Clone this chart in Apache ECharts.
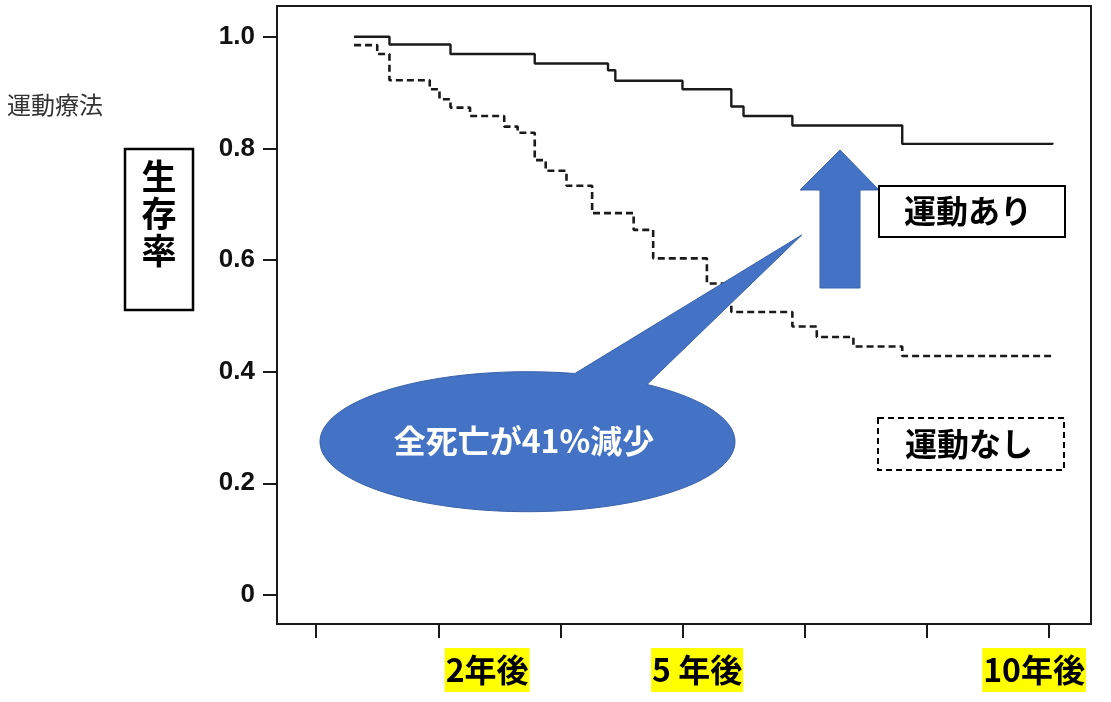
<!DOCTYPE html>
<html>
<head>
<meta charset="utf-8">
<script src="https://cdn.jsdelivr.net/npm/echarts@6/dist/echarts.min.js"></script>
<style>
html,body{margin:0;padding:0;background:#fff;}
#chart{width:1111px;height:702px;}
</style>
</head>
<body>
<div id="chart"></div>
<script>
// x in "tick units" (ticks equally spaced along the time axis)
const xTicks = [0, 1, 2, 3, 4, 5, 6];
const xLabelPositions = [1.40, 3.12, 5.88];
const xLabelTexts = ['2年後', '5 年後', '10年後'];
const yTicks = [0, 0.2, 0.4, 0.6, 0.8, 1.0];

// 運動あり (solid)
const exerciseX = [0.31, 0.60, 1.10, 1.79, 2.39, 2.45, 3.00, 3.40, 3.50, 3.90, 4.80, 6.03];
const exerciseY = [1.00, 0.986, 0.969, 0.952, 0.940, 0.921, 0.906, 0.875, 0.858, 0.841, 0.808, 0.810];

// 運動なし (dashed)
const noExerciseX = [0.31, 0.50, 0.60, 0.93, 1.01, 1.10, 1.26, 1.54, 1.65, 1.79, 1.88, 2.05, 2.26, 2.60, 2.76, 3.20, 3.40, 3.90, 4.10, 4.40, 4.80, 6.03];
const noExerciseY = [0.985, 0.969, 0.922, 0.906, 0.888, 0.873, 0.858, 0.839, 0.828, 0.779, 0.760, 0.733, 0.684, 0.654, 0.603, 0.558, 0.507, 0.481, 0.462, 0.445, 0.428, 0.428];

const CJK = '"Noto Sans CJK JP", "Noto Sans", sans-serif';
const NUM = '"Liberation Sans", Arial, sans-serif';
const BLUE = '#4472C4';
const BLUE_EDGE = '#3A62AA';

// speech-bubble outline (decoration): ellipse + tail
function bubblePoints() {
  const cx = 527.5, cy = 441.7, rx = 207.5, ry = 70;
  const a0 = Math.atan2((384 - cy) / ry, (648 - cx) / rx);
  let a1 = Math.atan2((373.3 - cy) / ry, (575 - cx) / rx);
  while (a1 <= a0) a1 += Math.PI * 2;
  const pts = [[801.7, 235]];
  const n = 120;
  for (let i = 0; i <= n; i++) {
    const a = a0 + (a1 - a0) * i / n;
    pts.push([cx + rx * Math.cos(a), cy + ry * Math.sin(a)]);
  }
  return pts;
}

const chart = echarts.init(document.getElementById('chart'), null, {renderer: 'canvas'});

const option = {
  backgroundColor: '#ffffff',
  animation: false,
  grid: {
    left: 277, right: 20, top: 6, bottom: 78,
    show: true, borderColor: '#1a1a1a', borderWidth: 2, backgroundColor: 'transparent'
  },
  xAxis: {
    type: 'value', min: -0.321, max: 6.346,
    axisLine: {show: true, onZero: false, lineStyle: {color: '#1a1a1a', width: 2}},
    axisTick: {show: true, customValues: xTicks, length: 14, lineStyle: {color: '#1a1a1a', width: 2}},
    splitLine: {show: false},
    axisLabel: {
      show: true,
      customValues: xLabelPositions,
      margin: 24,
      formatter: function (v) {
        let best = 0, d = Infinity;
        xLabelPositions.forEach(function (p, i) { if (Math.abs(p - v) < d) { d = Math.abs(p - v); best = i; } });
        return xLabelTexts[best];
      },
      fontFamily: CJK, fontWeight: 'bold', fontSize: 32, color: '#000',
      backgroundColor: '#FFFF00', lineHeight: 44, padding: [0, 1, 0, 1]
    }
  },
  yAxis: {
    type: 'value', min: -0.052, max: 1.055,
    axisLine: {show: true, onZero: false, lineStyle: {color: '#1a1a1a', width: 2}},
    axisTick: {show: true, customValues: yTicks, length: 14, lineStyle: {color: '#1a1a1a', width: 2}},
    splitLine: {show: false},
    axisLabel: {
      show: true,
      customValues: yTicks,
      margin: 22,
      formatter: function (v) { return v === 0 ? '0' : v.toFixed(1); },
      fontFamily: NUM, fontWeight: 'bold', fontSize: 26, color: '#111'
    }
  },
  series: [
    {
      name: '運動あり', type: 'line', step: 'end', symbol: 'none', z: 3,
      data: exerciseX.map(function (x, i) { return [x, exerciseY[i]]; }),
      lineStyle: {color: '#1a1a1a', width: 2.4}
    },
    {
      name: '運動なし', type: 'line', step: 'end', symbol: 'none', z: 3,
      data: noExerciseX.map(function (x, i) { return [x, noExerciseY[i]]; }),
      lineStyle: {color: '#1a1a1a', width: 2.6, type: [7, 4]}
    }
  ],
  graphic: [
    {
      type: 'text', x: 7, y: 105, z: 100,
      style: {text: '運動療法', font: '24px ' + CJK, fill: '#333', verticalAlign: 'middle'}
    },
    {
      type: 'rect', z: 100,
      shape: {x: 125, y: 149, width: 68, height: 161},
      style: {fill: '#fff', stroke: '#000', lineWidth: 2.5}
    },
    {
      type: 'text', z: 101, x: 159, y: 214,
      style: {text: '生\n存\n率', font: 'bold 35px ' + CJK, fill: '#000', align: 'center', verticalAlign: 'middle', lineHeight: 37}
    },
    {
      type: 'polygon', z: 100,
      shape: {points: bubblePoints()},
      style: {fill: BLUE, stroke: BLUE_EDGE, lineWidth: 1}
    },
    {
      type: 'text', z: 101, x: 524, y: 441,
      style: {text: '全死亡が41%減少', font: 'bold 32px ' + CJK, fill: '#fff', align: 'center', verticalAlign: 'middle'}
    },
    {
      type: 'polygon', z: 100,
      shape: {points: [[840, 150], [879, 190], [860, 190], [860, 288], [820, 288], [820, 190], [800, 190]]},
      style: {fill: BLUE, stroke: BLUE_EDGE, lineWidth: 1}
    },
    {
      type: 'rect', z: 100,
      shape: {x: 879, y: 186, width: 186, height: 51},
      style: {fill: '#fff', stroke: '#000', lineWidth: 2}
    },
    {
      type: 'text', z: 101, x: 968, y: 211,
      style: {text: '運動あり', font: 'bold 32px ' + CJK, fill: '#000', align: 'center', verticalAlign: 'middle'}
    },
    {
      type: 'rect', z: 100,
      shape: {x: 878, y: 418, width: 186, height: 52},
      style: {fill: '#fff', stroke: '#000', lineWidth: 2, lineDash: [6, 4]}
    },
    {
      type: 'text', z: 101, x: 969, y: 444,
      style: {text: '運動なし', font: 'bold 32px ' + CJK, fill: '#000', align: 'center', verticalAlign: 'middle'}
    }
  ]
};
chart.setOption(option);
</script>
</body>
</html>
